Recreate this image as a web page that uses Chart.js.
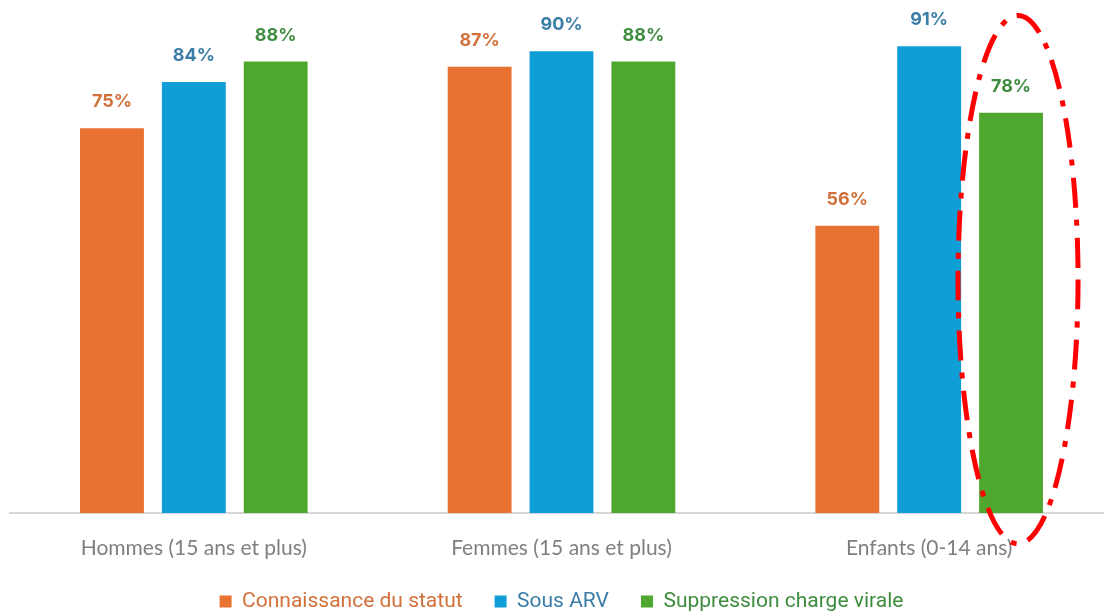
<!DOCTYPE html>
<html>
<head>
<meta charset="utf-8">
<script src="https://cdn.jsdelivr.net/npm/chart.js@4.4.1/dist/chart.umd.min.js"></script>
<style>
  html, body { margin: 0; padding: 0; background: #fff; overflow: hidden; }
  #wrap { width: 1122px; height: 613px; }
</style>
</head>
<body>
<div id="wrap"><canvas id="chart" width="1122" height="613"></canvas></div>
<script>
// data
const categories = ['Hommes (15 ans et plus)', 'Femmes (15 ans et plus)', 'Enfants (0-14 ans)'];
const seriesNames = ['Connaissance du statut', 'Sous ARV', 'Suppression charge virale'];
const connaissance = [75, 87, 56];
const sousArv = [84, 90, 91];
const suppression = [88, 88, 78];

const barColors = ['#E97132', '#0F9ED5', '#4EA72E'];
const labelColors = ['#D2703A', '#3A7DA6', '#3E8C3E'];

// values printed above each bar
const valueLabels = {
  id: 'valueLabels',
  afterDatasetsDraw(chart) {
    const ctx = chart.ctx;
    ctx.save();
    ctx.font = 'bold 18px Inter, "DejaVu Sans", sans-serif';
    ctx.textAlign = 'center';
    ctx.textBaseline = 'alphabetic';
    chart.data.datasets.forEach((ds, i) => {
      const meta = chart.getDatasetMeta(i);
      ctx.fillStyle = labelColors[i];
      meta.data.forEach((bar, j) => {
        ctx.fillText(ds.data[j] + '%', bar.x, bar.y - 21);
      });
    });
    ctx.restore();
  }
};

// red dash-dot ellipse around the children's viral suppression bar
const highlight = {
  id: 'highlight',
  afterDraw(chart) {
    const bar = chart.getDatasetMeta(2).data[2];
    const y = chart.scales.y;
    const top = y.getPixelForValue(97);
    const bottom = y.getPixelForValue(-6);
    const ctx = chart.ctx;
    ctx.save();
    ctx.strokeStyle = '#FF0000';
    ctx.lineWidth = 5;
    ctx.setLineDash([30, 12, 6, 12]);
    ctx.beginPath();
    ctx.ellipse(bar.x + 7, (top + bottom) / 2, bar.width * 0.94, (bottom - top) / 2, 0, 0, Math.PI * 2);
    ctx.stroke();
    ctx.restore();
  }
};

const sets = [connaissance, sousArv, suppression];

new Chart(document.getElementById('chart'), {
  type: 'bar',
  data: {
    labels: categories,
    datasets: sets.map((d, i) => ({
      label: seriesNames[i],
      data: d,
      backgroundColor: barColors[i],
      borderWidth: 0,
      categoryPercentage: 0.668,
      barPercentage: 0.78
    }))
  },
  options: {
    responsive: false,
    animation: false,
    layout: { padding: { left: 10, right: 9, top: 0, bottom: -9 } },
    plugins: {
      tooltip: { enabled: false },
      legend: {
        position: 'bottom',
        labels: {
          boxWidth: 12,
          boxHeight: 12,
          padding: 32,
          font: { family: '"Liberation Sans Narrow", "Roboto", sans-serif', size: 21 },
          generateLabels(chart) {
            return chart.data.datasets.map((ds, i) => ({
              text: ds.label,
              fillStyle: barColors[i],
              strokeStyle: barColors[i],
              lineWidth: 0,
              fontColor: labelColors[i],
              datasetIndex: i
            }));
          }
        }
      }
    },
    scales: {
      x: {
        grid: { display: false },
        border: { display: true, color: '#D6D6D6', width: 2 },
        ticks: {
          color: '#7F7F7F',
          padding: 15,
          font: { family: 'Lato, sans-serif', size: 21 }
        },
        afterFit(scale) { scale.height = 46; }
      },
      y: {
        display: false,
        min: 0,
        max: 100
      }
    }
  },
  plugins: [valueLabels, highlight]
});
</script>
</body>
</html>
